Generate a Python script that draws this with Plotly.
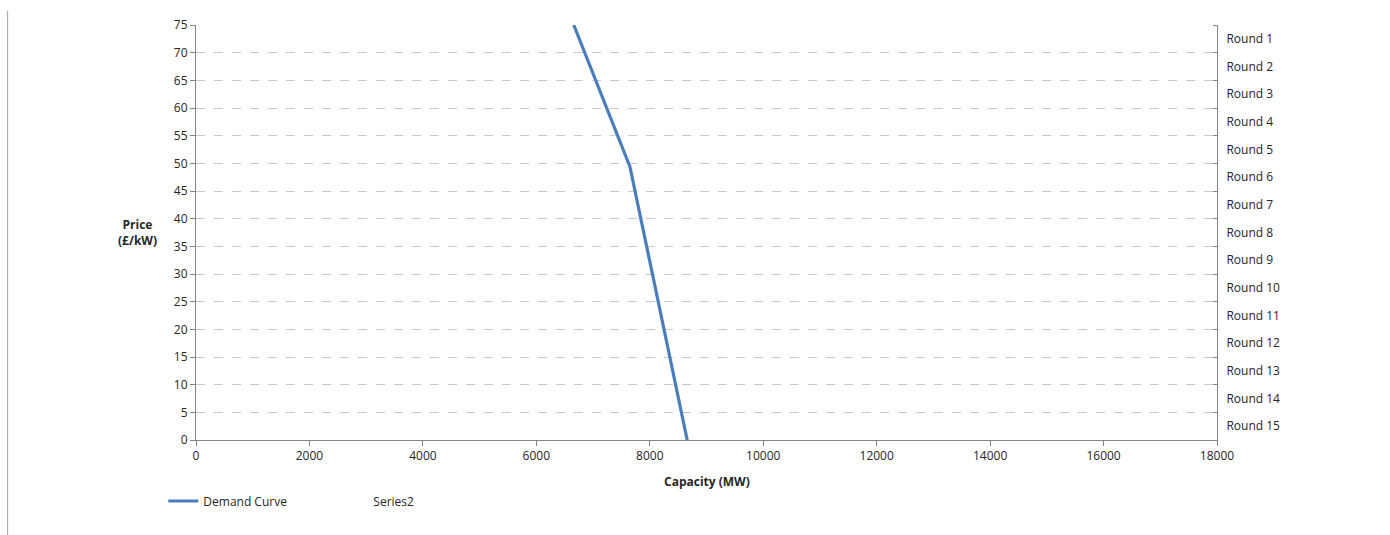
import plotly.graph_objects as go

# Demand curve: capacity (MW) against price (£/kW)
capacity_mw = [6660, 7650, 8660]
price_gbp_kw = [75, 49.4, 0]

# Capacity axis ticks
capacity_ticks = list(range(0, 18001, 2000))
price_ticks = list(range(0, 76, 5))

# Auction round labels on the secondary axis, one per 5 £/kW band
round_labels = [f"Round {i}" for i in range(1, 16)]
round_positions = [72.5 - 5 * i for i in range(15)]

FONT = "Open Sans"
TXT = "#262626"
AXIS = "#868686"
GRID = "#c8c8c8"

fig = go.Figure()
fig.add_trace(go.Scatter(
    x=capacity_mw, y=price_gbp_kw, mode="lines", name="Demand Curve",
    line=dict(color="#4a7ebb", width=3.2),
))
fig.add_trace(go.Scatter(
    x=[None], y=[None], mode="lines", name="Series2", yaxis="y2",
    line=dict(color="rgba(0,0,0,0)", width=0),
))

fig.update_layout(
    width=1390, height=535,
    margin=dict(l=196, r=173, t=25, b=95),
    paper_bgcolor="white", plot_bgcolor="white",
    font=dict(family=FONT, size=12, color=TXT),
    showlegend=True,
    legend=dict(orientation="h", x=-0.032, y=-0.112, xanchor="left", yanchor="top",
                font=dict(size=12, color=TXT), entrywidth=125, entrywidthmode="pixels",
                itemwidth=30, bgcolor="rgba(0,0,0,0)"),
    xaxis=dict(range=[0, 18000], tickvals=capacity_ticks,
               ticktext=[str(v) for v in capacity_ticks],
               showgrid=False, zeroline=False, showline=True, linecolor=AXIS, linewidth=1,
               ticks="outside", ticklen=5, tickcolor=AXIS, tickfont=dict(size=12, color=TXT)),
    yaxis=dict(range=[0, 75], tickvals=price_ticks,
               showgrid=True, gridcolor=GRID, griddash="dash", gridwidth=1,
               zeroline=False, showline=True, linecolor=AXIS, linewidth=1,
               ticks="outside", ticklen=5, tickcolor=AXIS, tickfont=dict(size=12, color=TXT)),
    yaxis2=dict(range=[0, 75], overlaying="y", side="right",
                tickvals=round_positions, ticktext=round_labels, ticks="",
                ticklabelstandoff=6,
                showgrid=False, zeroline=False, showline=True, linecolor=AXIS, linewidth=1,
                tickfont=dict(size=12, color=TXT),
                minor=dict(tickvals=price_ticks, ticks="inside", ticklen=4,
                           tickcolor=AXIS, showgrid=False)),
    annotations=[
        dict(text="<b>Price<br>(£/kW)</b>", xref="paper", yref="paper",
             x=-0.057, y=0.5, showarrow=False, font=dict(size=12, color=TXT),
             xanchor="center", yanchor="middle", align="center"),
        dict(text="<b>Capacity (MW)</b>", xref="paper", yref="paper",
             x=0.5, y=-0.101, showarrow=False, font=dict(size=12, color=TXT),
             xanchor="center", yanchor="middle"),
    ],
    shapes=[
        dict(type="line", xref="paper", yref="paper", x0=-0.1845, x1=-0.1845,
             y0=1.034, y1=-0.23, line=dict(color="#a0a0a0", width=1)),
    ],
)

fig.write_html("out.html")
